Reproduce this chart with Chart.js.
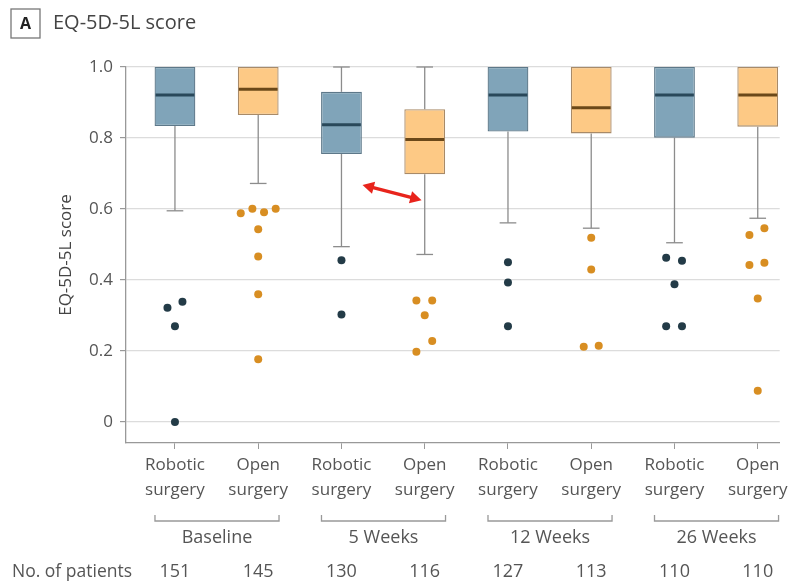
<!DOCTYPE html>
<html>
<head>
<meta charset="utf-8">
<script src="https://cdn.jsdelivr.net/npm/chart.js@4/dist/chart.umd.min.js"></script>
<style>
    html, body
    {
        margin: 0;
        padding: 0;
        background: #fff;
    }

    #wrap
    {
        position: relative;
        width: 792px;
        height: 584px;
    }
</style>
</head>
<body>
<div id="wrap"><canvas id="eqChart"></canvas></div>
<script>
const groupLabels = ["Baseline", "5 Weeks", "12 Weeks", "26 Weeks"];
const armLabels = [["Robotic", "surgery"], ["Open", "surgery"]];
const patientCounts = [151, 145, 130, 116, 127, 113, 110, 110];

// box plot stats per column (robotic, open, robotic, open ...)
const whiskerLow = [0.595, 0.672, 0.494, 0.472, 0.561, 0.546, 0.505, 0.574];
const quartile1 = [0.834, 0.865, 0.755, 0.698, 0.818, 0.813, 0.801, 0.832];
const medians = [0.921, 0.937, 0.837, 0.796, 0.921, 0.885, 0.921, 0.921];
const quartile3 = [1.0, 1.0, 0.930, 0.881, 1.0, 1.0, 1.0, 1.0];
const whiskerHigh = [1.0, 1.0, 1.0, 1.0, 1.0, 1.0, 1.0, 1.0];

const outlierValues =
[
    [0.322, 0.339, 0.270, 0.0],
    [0.588, 0.601, 0.591, 0.601, 0.543, 0.466, 0.360, 0.177],
    [0.456, 0.303],
    [0.342, 0.342, 0.301, 0.228, 0.198],
    [0.450, 0.393, 0.270],
    [0.519, 0.430, 0.212, 0.215],
    [0.463, 0.454, 0.388, 0.270, 0.270],
    [0.527, 0.546, 0.442, 0.449, 0.348, 0.088]
];

const outlierJitter =
[
    [-0.09, 0.09, 0, 0],
    [-0.21, -0.07, 0.07, 0.21, 0, 0, 0, 0],
    [0, 0],
    [-0.1, 0.09, 0, 0.09, -0.1],
    [0, 0, 0],
    [0, 0, -0.09, 0.09],
    [-0.1, 0.09, 0, -0.1, 0.09],
    [-0.1, 0.08, -0.1, 0.08, 0, 0]
];

const arrowFrom = [2.253, 0.668];
const arrowTo = [2.962, 0.625];

const yTicks = [0, 0.2, 0.4, 0.6, 0.8, 1.0];

const FONT = "'Open Sans', 'Noto Sans', sans-serif";
const TEXT_COLOR = "#555";
const BOX_HALF = 0.245;
const CAP_HALF = 0.1;

const armStyle =
[
    { fill: "#80a4b9", border: "#5d7889", median: "#29485a", dot: "#233b47" },
    { fill: "#fdc985", border: "#a88a68", median: "#6b4819", dot: "#d88e22" }
];

function columnsOfArm(arm)
{
    return patientCounts.map((c, i) => i).filter((i) => i % 2 === arm);
}

function boxDataset(arm)
{
    const style = armStyle[arm];

    return {
        type: "bar",
        data: columnsOfArm(arm).map((i) =>
        {
            return { x: i, y: [quartile1[i], quartile3[i]] };
        }),
        backgroundColor: style.fill,
        borderColor: style.border,
        borderWidth: 1.3,
        borderSkipped: false,
        grouped: false,
        barPercentage: 0.49,
        categoryPercentage: 1,
        clip: false,
        order: 2
    };
}

function outlierDataset(arm)
{
    const points = [];

    columnsOfArm(arm).forEach((i) =>
    {
        outlierValues[i].forEach((v, k) =>
        {
            points.push({ x: i + outlierJitter[i][k], y: v });
        });
    });

    return {
        type: "scatter",
        data: points,
        pointRadius: 4,
        pointBackgroundColor: armStyle[arm].dot,
        pointBorderWidth: 0,
        clip: false,
        order: 1
    };
}

function line(ctx, x1, y1, x2, y2)
{
    ctx.beginPath();
    ctx.moveTo(x1, y1);
    ctx.lineTo(x2, y2);
    ctx.stroke();
}

const whiskerPlugin =
{
    id: "whiskers",
    beforeDatasetsDraw(chart)
    {
        const ctx = chart.ctx;
        const xs = chart.scales.x;
        const ys = chart.scales.y;

        ctx.save();
        ctx.strokeStyle = "#8c8c8c";
        ctx.lineWidth = 1.3;

        patientCounts.forEach((c, i) =>
        {
            const x = xs.getPixelForValue(i);
            const xl = xs.getPixelForValue(i - CAP_HALF);
            const xr = xs.getPixelForValue(i + CAP_HALF);

            line(ctx, x, ys.getPixelForValue(whiskerLow[i]), x, ys.getPixelForValue(quartile1[i]));
            line(ctx, xl, ys.getPixelForValue(whiskerLow[i]), xr, ys.getPixelForValue(whiskerLow[i]));

            if (whiskerHigh[i] > quartile3[i])
            {
                line(ctx, x, ys.getPixelForValue(quartile3[i]), x, ys.getPixelForValue(whiskerHigh[i]));
                line(ctx, xl, ys.getPixelForValue(whiskerHigh[i]), xr, ys.getPixelForValue(whiskerHigh[i]));
            }
        });

        ctx.restore();
    }
};

function arrowHead(ctx, tipX, tipY, angle)
{
    const len = 13;
    const spread = 0.5;

    ctx.beginPath();
    ctx.moveTo(tipX, tipY);
    ctx.lineTo(tipX - len * Math.cos(angle - spread), tipY - len * Math.sin(angle - spread));
    ctx.lineTo(tipX - len * Math.cos(angle + spread), tipY - len * Math.sin(angle + spread));
    ctx.closePath();
    ctx.fill();
}

const medianPlugin =
{
    id: "medians",
    afterDatasetsDraw(chart)
    {
        const ctx = chart.ctx;
        const xs = chart.scales.x;
        const ys = chart.scales.y;

        ctx.save();
        ctx.lineWidth = 3;

        medians.forEach((m, i) =>
        {
            ctx.strokeStyle = armStyle[i % 2].median;
            const y = ys.getPixelForValue(m);
            line(ctx, xs.getPixelForValue(i - BOX_HALF) + 1, y, xs.getPixelForValue(i + BOX_HALF) - 1, y);
        });

        // red double arrow between 5 week boxes
        const x1 = xs.getPixelForValue(arrowFrom[0]);
        const y1 = ys.getPixelForValue(arrowFrom[1]);
        const x2 = xs.getPixelForValue(arrowTo[0]);
        const y2 = ys.getPixelForValue(arrowTo[1]);
        const angle = Math.atan2(y2 - y1, x2 - x1);

        ctx.strokeStyle = "#e8241c";
        ctx.fillStyle = "#e8241c";
        ctx.lineWidth = 3.5;
        line(ctx, x1 + 8 * Math.cos(angle), y1 + 8 * Math.sin(angle), x2 - 8 * Math.cos(angle), y2 - 8 * Math.sin(angle));
        arrowHead(ctx, x2, y2, angle);
        arrowHead(ctx, x1, y1, angle + Math.PI);

        ctx.restore();
    }
};

const labelPlugin =
{
    id: "extraLabels",
    afterDraw(chart)
    {
        const ctx = chart.ctx;
        const xs = chart.scales.x;
        const base = chart.chartArea.bottom;

        ctx.save();

        // panel letter and title
        ctx.strokeStyle = "#777";
        ctx.lineWidth = 1.3;
        ctx.strokeRect(11, 9, 29, 29);
        ctx.fillStyle = "#222";
        ctx.font = "bold 16px " + FONT;
        ctx.textAlign = "center";
        ctx.textBaseline = "middle";
        ctx.fillText("A", 25.5, 24);

        ctx.fillStyle = "#444";
        ctx.font = "20px " + FONT;
        ctx.textAlign = "left";
        ctx.fillText("EQ-5D-5L score", 53, 23);

        // group brackets
        ctx.strokeStyle = "#999";
        ctx.lineWidth = 1.3;
        ctx.fillStyle = TEXT_COLOR;
        ctx.font = "18px " + FONT;
        ctx.textAlign = "center";

        groupLabels.forEach((g, k) =>
        {
            const left = xs.getPixelForValue(2 * k - 0.24);
            const right = xs.getPixelForValue(2 * k + 1 + 0.25);
            const top = base + 72;
            const bottom = base + 78;

            ctx.beginPath();
            ctx.moveTo(left, top);
            ctx.lineTo(left, bottom);
            ctx.lineTo(right, bottom);
            ctx.lineTo(right, top);
            ctx.stroke();

            ctx.fillText(g, (left + right) / 2, base + 95);
        });

        // patient numbers
        patientCounts.forEach((n, i) =>
        {
            ctx.fillText(String(n), xs.getPixelForValue(i), base + 129);
        });

        ctx.textAlign = "left";
        ctx.font = "17.5px " + FONT;
        ctx.fillText("No. of patients", 12, base + 129);

        ctx.restore();
    }
};

new Chart(document.getElementById("eqChart").getContext("2d"),
{
    data:
    {
        datasets:
        [
            boxDataset(0),
            boxDataset(1),
            outlierDataset(0),
            outlierDataset(1)
        ]
    },
    options:
    {
        animation: false,
        responsive: true,
        maintainAspectRatio: false,
        events: [],
        layout:
        {
            padding: { left: 56, right: 12, top: 67, bottom: 0 }
        },
        plugins:
        {
            legend: { display: false },
            tooltip: { enabled: false }
        },
        scales:
        {
            x:
            {
                type: "linear",
                offset: false,
                min: -0.588,
                max: 7.264,
                afterBuildTicks(scale)
                {
                    scale.ticks = patientCounts.map((c, i) =>
                    {
                        return { value: i };
                    });
                },
                afterFit(scale)
                {
                    scale.height = 141;
                },
                ticks:
                {
                    color: TEXT_COLOR,
                    font: { family: FONT, size: 17, lineHeight: 1.45 },
                    padding: 4,
                    maxRotation: 0,
                    autoSkip: false,
                    callback(value)
                    {
                        return armLabels[value % 2];
                    }
                },
                grid:
                {
                    display: true,
                    offset: false,
                    drawOnChartArea: false,
                    drawTicks: true,
                    tickLength: 6,
                    color: "#999"
                },
                border: { color: "#999", width: 1.3 }
            },
            y:
            {
                min: -0.059,
                max: 1.0,
                afterBuildTicks(scale)
                {
                    scale.ticks = yTicks.map((v) =>
                    {
                        return { value: v };
                    });
                },
                afterFit(scale)
                {
                    scale.width = 70;
                },
                ticks:
                {
                    color: TEXT_COLOR,
                    font: { family: FONT, size: 17 },
                    padding: 7,
                    callback(value)
                    {
                        return value === 0 ? "0" : value.toFixed(1);
                    }
                },
                grid:
                {
                    color: "#dcdcdc",
                    lineWidth: 1.2,
                    tickLength: 6,
                    tickColor: "#999"
                },
                border: { color: "#999", width: 1.3 },
                title:
                {
                    display: true,
                    text: "EQ-5D-5L score",
                    color: "#444",
                    font: { family: FONT, size: 17 },
                    padding: 0
                }
            }
        }
    },
    plugins: [whiskerPlugin, medianPlugin, labelPlugin]
});
</script>
</body>
</html>
